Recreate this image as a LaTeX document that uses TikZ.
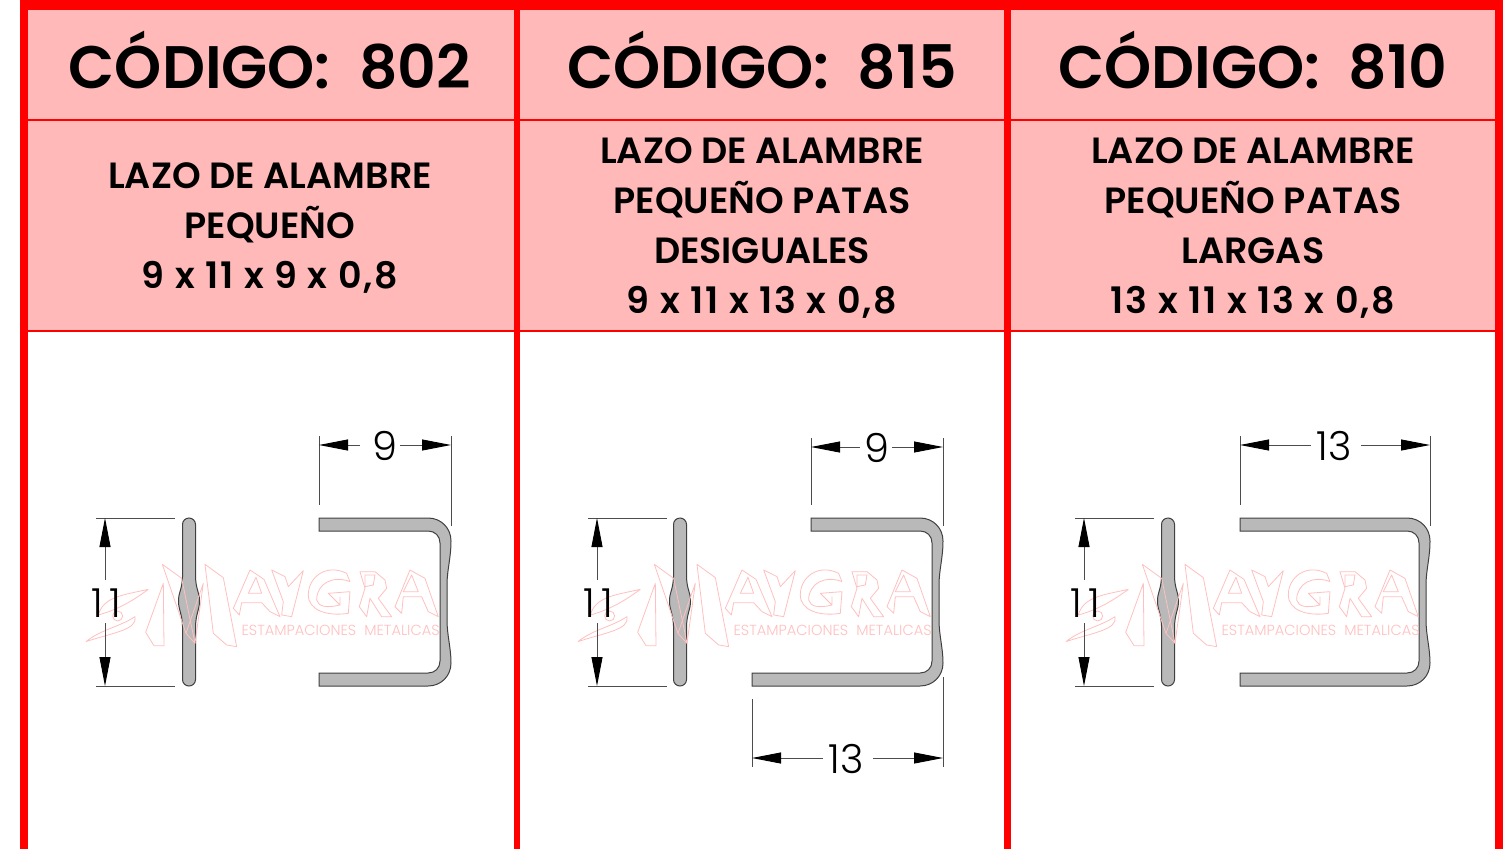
\documentclass[tikz,border=0pt]{standalone}
\usepackage{fontspec}
\usetikzlibrary{arrows.meta}
\setmainfont{Poppins}
\newfontfamily\titlefont{Poppins}[UprightFont=* SemiBold]
\newfontfamily\dimfont{Poppins}[UprightFont=* Light]
\newfontfamily\sizefont{Poppins}[UprightFont=* SemiBold,LetterSpace=5]
\definecolor{rowpink}{HTML}{FFB9B9}
\definecolor{markpink}{HTML}{FFC0C0}
\definecolor{wiregray}{HTML}{B9B9B9}
\tikzset{
  frameline/.style={red,line width=#1},
  wire/.style={draw=black!75,fill=wiregray,line width=1pt},
  dimline/.style={black!70,line width=0.9pt},
  dimtip/.style={dimline,{Triangle[length=29pt,width=11pt,black]}-},
  dimlabel/.style={black,font=\dimfont\fontsize{40}{40}\selectfont,inner sep=0pt},
  marktrace/.style={markpink,line width=0.8pt,line join=round},
  titletext/.style={font=\titlefont\fontsize{60}{60}\selectfont,inner sep=0pt,anchor=base},
  desctext/.style={font=\titlefont\fontsize{36.5}{50.3}\selectfont,align=center,inner sep=0pt}
}
\newcommand{\staple}[3]{
  \filldraw[wire] (#1,518) -- (#3-23,518) .. controls (#3-10,518) and (#3,528) .. (#3,541)
    .. controls (#3,558) and (#3-4,570) .. (#3-4,585) -- (#3-4,620)
    .. controls (#3-4,635) and (#3,648) .. (#3,663) .. controls (#3,676) and (#3-10,686) .. (#3-23,686)
    -- (#2,686) -- (#2,673) -- (#3-23,673) .. controls (#3-16,673) and (#3-11,668) .. (#3-11,661)
    -- (#3-11,543) .. controls (#3-11,536) and (#3-16,531) .. (#3-23,531) -- (#1,531) -- cycle;
}
\newcommand{\maygramark}[1]{
  \begin{scope}[shift={(60+#1,420)},x=0.3333pt,y=-0.3333pt]
    \draw[marktrace] (265,508) .. controls (190,525) and (130,530) .. (115,585) .. controls (170,570) and (215,545) .. (265,508);
    \draw[marktrace] (78,665) .. controls (120,630) and (180,620) .. (225,590) .. controls (235,630) and (150,640) .. (78,665);
    \draw[marktrace] (173,588) circle[radius=15];
    \draw[marktrace] (257,637) -- (310,490) -- (312,677) -- (282,677) -- cycle;
    \draw[marktrace] (307,433) -- (365,475) -- (405,670) -- (378,640) -- cycle;
    \draw[marktrace] (378,640) -- (430,490) -- (405,670);
    \draw[marktrace] (435,433) -- (490,473) -- (530,680) -- (500,675) -- (460,640) -- cycle;
    \draw[marktrace] (520,565) -- (570,450) -- (612,478) -- (660,590) -- (630,575) -- (605,548) -- (545,548) -- (538,585) -- cycle;
    \draw[marktrace] (565,520) -- (588,472) -- (605,520) -- cycle;
    \draw[marktrace] (635,450) -- (675,470) -- (685,500) -- (730,452) -- (695,590) -- (665,585) -- (670,545) -- cycle;
    \draw[marktrace] (870,485) -- (860,460) .. controls (800,430) and (745,470) .. (745,525) .. controls (745,570) and (800,590) .. (865,580) -- (870,515) -- (805,520) -- (840,555) -- (840,530)
      (870,485) .. controls (820,465) and (770,490) .. (770,540) .. controls (775,560) and (800,565) .. (840,555);
    \draw[marktrace] (900,455) -- (945,455) -- (975,480) -- (980,505) -- (955,535) -- (995,590) -- (965,590) -- (930,535) -- (920,590) -- (898,560) -- (915,505) -- cycle;
    \draw[marktrace] (915,465) -- (945,465) -- (940,495) -- (915,500) -- cycle;
    \draw[marktrace] (1005,560) -- (1050,450) -- (1095,475) -- (1135,590) -- (1105,575) -- (1085,530) -- (1030,530) -- (1025,580) -- cycle;
    \draw[marktrace] (1030,515) -- (1055,465) -- (1075,515) -- cycle;
    \node[markpink,font=\dimfont\fontsize{14.6}{14.6}\selectfont,inner sep=0pt] (marktext#1) at (842,630) {ESTAMPACIONES\ \ METALICAS};
  \end{scope}
}
\begin{document}
\begin{tikzpicture}[x=1pt,y=-1pt]
  \useasboundingbox (0,0) rectangle (1504,849);
  \fill[white] (0,0) rectangle (1504,849);
  \fill[rowpink] (24,5) rectangle (1499,330);
  \draw[frameline=2pt] (24,119.5)--(1499,119.5);
  \draw[frameline=2pt] (24,330.5)--(1499,330.5);
  \draw[frameline=10pt] (20,5)--(1503,5);
  \draw[frameline=8pt] (24,0)--(24,849);
  \draw[frameline=6.5pt] (517,0)--(517,849);
  \draw[frameline=7pt] (1007.5,0)--(1007.5,849);
  \draw[frameline=8pt] (1499,0)--(1499,849);

  \node[titletext] (title802) at (270,88) {CÓDIGO:\ \ 802};
  \node[titletext] (title815) at (762,88) {CÓDIGO:\ \ 815};
  \node[titletext] (title810) at (1253,88) {CÓDIGO:\ \ 810};
  \node[desctext] (desc802) at (270,228) {LAZO DE ALAMBRE\\PEQUEÑO\\{\sizefont 9 x 1\kern2pt 1 x 9 x 0,8}};
  \node[desctext] (desc815) at (762,228) {LAZO DE ALAMBRE\\PEQUEÑO PATAS\\DESIGUALES\\{\sizefont 9 x 1\kern2pt 1 x 13 x 0,8}};
  \node[desctext] (desc810) at (1253,228) {LAZO DE ALAMBRE\\PEQUEÑO PATAS\\LARGAS\\{\sizefont 13 x 1\kern2pt 1 x 13 x 0,8}};

  \foreach \dx in {0,491,979}{
    \filldraw[wire,shift={(\dx,0)}] (182.5,524.5) .. controls (182.5,520.9) and (185.4,518) .. (189,518)
      .. controls (192.6,518) and (195.5,520.9) .. (195.5,524.5) -- (195.5,577)
      .. controls (196,590) and (199.5,592) .. (199.5,601) .. controls (199.5,610) and (196,613) .. (195.5,626)
      -- (195.5,679.5) .. controls (195.5,683.1) and (192.6,686) .. (189,686)
      .. controls (185.4,686) and (182.5,683.1) .. (182.5,679.5) -- (182.5,626)
      .. controls (182,613) and (178.5,610) .. (178.5,601) .. controls (178.5,592) and (182,590) .. (182.5,577) -- cycle;
  }
  \staple{319}{319}{451}
  \staple{811}{752}{943}
  \staple{1240}{1240}{1430}
  \maygramark{0}
  \maygramark{492}
  \maygramark{980}

  \foreach \dx in {0,492,979}{
    \begin{scope}[shift={(\dx,0)}]
      \draw[dimline] (96,518)--(175,518);
      \draw[dimline] (96,686)--(175,686);
      \draw[dimtip] (105,518)--(105,580);
      \draw[dimtip] (105,686)--(105,623);
      \node[dimlabel] (height\dx) at (106,603) {1\kern6pt 1};
    \end{scope}
  }

  \draw[dimline] (319,436)--(319,505);
  \draw[dimline] (451,436)--(451,526);
  \draw[dimtip] (319,445)--(360,445);
  \draw[dimtip] (451,445)--(400,445);
  \node[dimlabel] (leg802) at (385,446) {9};

  \draw[dimline] (811,438)--(811,505);
  \draw[dimline] (943,438)--(943,526);
  \draw[dimtip] (811,447)--(860,447);
  \draw[dimtip] (943,447)--(892,447);
  \node[dimlabel] (leg815) at (877,448) {9};
  \draw[dimline] (752,699)--(752,767);
  \draw[dimline] (943,677)--(943,767);
  \draw[dimtip] (752,758)--(823,758);
  \draw[dimtip] (943,758)--(873,758);
  \node[dimlabel] (foot815) at (846,759) {13};

  \draw[dimline] (1240,436)--(1240,505);
  \draw[dimline] (1430,436)--(1430,526);
  \draw[dimtip] (1240,445)--(1311,445);
  \draw[dimtip] (1430,445)--(1361,445);
  \node[dimlabel] (leg810) at (1334,446) {13};
\end{tikzpicture}
\end{document}
